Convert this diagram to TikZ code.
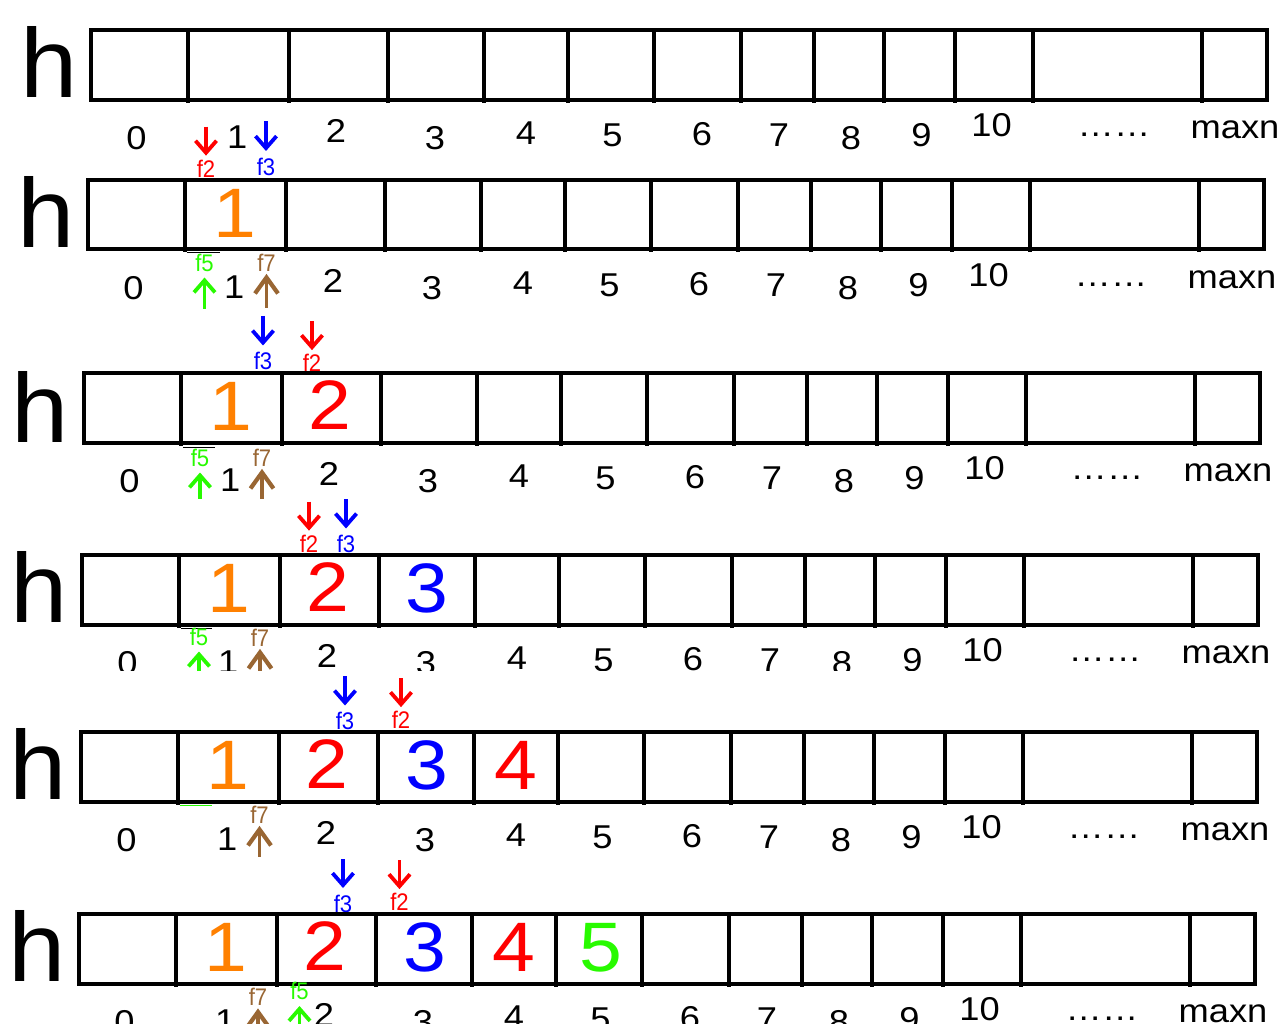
\documentclass[tikz,border=0pt]{standalone}
\usepackage{fontspec}
\setmainfont{Liberation Sans}
\usetikzlibrary{arrows.meta}
\definecolor{myorange}{RGB}{255,128,0}
\definecolor{mygreen}{RGB}{40,250,0}
\definecolor{mybrown}{RGB}{153,102,51}
\definecolor{myred}{RGB}{255,0,0}
\definecolor{myblue}{RGB}{0,0,255}
\tikzset{
  cellline/.style={line width=3.3pt},
  hlab/.style={inner sep=0pt, anchor=south, font=\fontsize{98}{100}\selectfont, xscale=1.05},
  idx/.style={inner sep=0pt, font=\fontsize{33}{36}\selectfont, xscale=1.1},
  big/.style={inner sep=0pt, font=\fontsize{70}{72}\selectfont, xscale=1.1},
  flab/.style={inner sep=0pt, font=\fontsize{24}{26}\selectfont, xscale=0.92},
  ptr/.style={line width=3.3pt, -{Straight Barb[length=12pt,width=21pt,line width=3.8pt]}},
  bptr/.style={line width=3.8pt, -{Straight Barb[length=16pt,width=23pt,line width=4.2pt]}},
  scrap/.style={line width=1pt},
}
\newcommand\arrrow[3]{%
  \draw[cellline] (#1,#2) rectangle ({#1+1176},#3);
  \foreach \o in {97,198,297,393,477,563,650,723,793,864,942,1111}
    \draw[cellline] ({#1+\o},#2) -- ({#1+\o},{#3+3});
}
\newcommand\idxrow[3]{%
  \foreach \n/\t/\dx/\dy in {0/0/45.5/108.5, 1/1/146.3/107, 2/2/245/100.5, 3/3/344/108,
      4/4/435/103, 5/5/521.5/105.5, 6/6/611/104, 7/7/688/105, 8/8/760/108.5,
      9/9/830.5/105.5, 10/10/900.5/95.5, d/……/1023/105, m/maxn/1144/100}
    \node[idx] (#3i\n) at ({#1+\dx},{#2+\dy}) {\t};
}
\begin{document}
\begin{tikzpicture}[x=1pt,y=-1pt]
\useasboundingbox (0,0) rectangle (1280,1024);
\fill[white] (0,0) rectangle (1280,1024);
\clip (0,0) rectangle (1280,1024);

% ---------- row 1 ----------
\node[hlab] (h1) at (49,98) {h};
\arrrow{91}{30}{100}
\idxrow{91}{30}{r1}
\node[flab, myred]  (p1r) at (206,168.5) {f2};
\node[flab, myblue] (p1b) at (266,166.5) {f3};
\draw[ptr, myred]  ([yshift=33pt]p1r.north) -- ([yshift=4pt]p1r.north);
\draw[ptr, myblue] ([yshift=36pt]p1b.north) -- ([yshift=6.5pt]p1b.north);

% ---------- row 2 ----------
\node[hlab] (h2) at (46,248) {h};
\arrrow{88}{180}{249}
\node[big, myorange] (c2a) at (234.5,213) {1};
\idxrow{88}{180}{r2}
\draw[scrap] (187,253) -- (220,253);
\node[flab, mygreen] (q2g) at (204.5,262.5) {f5};
\node[flab, mybrown] (q2b) at (266.5,263) {f7};
\draw[ptr, mygreen] ([yshift=-37pt]q2g.south) -- ([yshift=-6pt]q2g.south);
\draw[bptr, mybrown] ([yshift=-36pt]q2b.south) -- ([yshift=-2pt]q2b.south);
\node[flab, myblue] (p2b) at (263,361) {f3};
\node[flab, myred]  (p2r) at (312,363) {f2};
\draw[ptr, myblue] ([yshift=36pt]p2b.north) -- ([yshift=6.5pt]p2b.north);
\draw[ptr, myred]  ([yshift=33pt]p2r.north) -- ([yshift=4pt]p2r.north);

% ---------- row 3 ----------
\node[hlab] (h3) at (40.5,443) {h};
\arrrow{84}{373}{443}
\node[big, myorange] (c3a) at (230.5,406) {1};
\node[big, myred]    (c3b) at (330,405) {2};
\idxrow{84}{373}{r3}
\draw[scrap] (183,447) -- (215,447);
\node[flab, mygreen] (q3g) at (200,457.5) {f5};
\node[flab, mybrown] (q3b) at (262,458) {f7};
\draw[ptr, mygreen] ([yshift=-32pt]q3g.south) -- ([yshift=-6pt]q3g.south);
\draw[bptr, mybrown] ([yshift=-32pt]q3b.south) -- ([yshift=-2pt]q3b.south);
\node[flab, myred]  (p3r) at (309,543.5) {f2};
\node[flab, myblue] (p3b) at (346,544) {f3};
\draw[ptr, myred]  ([yshift=33pt]p3r.north) -- ([yshift=4pt]p3r.north);
\draw[ptr, myblue] ([yshift=36pt]p3b.north) -- ([yshift=6.5pt]p3b.north);

% ---------- row 4 ----------
\node[hlab] (h4) at (39,623) {h};
\arrrow{82}{555}{625}
\node[big, myorange] (c4a) at (228.5,588) {1};
\node[big, myred]    (c4b) at (328,587) {2};
\node[big, myblue]   (c4c) at (427,588) {3};
\begin{scope}
  \clip (0,0) rectangle (1280,670);
  \idxrow{82}{555}{r4}
  \draw[scrap] (181,628) -- (212,628);
  \node[flab, mygreen] (q4g) at (199,636.5) {f5};
  \node[flab, mybrown] (q4b) at (260,638) {f7};
  \draw[ptr, mygreen] ([yshift=-36pt]q4g.south) -- ([yshift=-6pt]q4g.south);
  \draw[bptr, mybrown] ([yshift=-36pt]q4b.south) -- ([yshift=-2pt]q4b.south);
\end{scope}
\node[flab, myblue] (p4b) at (345,721) {f3};
\node[flab, myred]  (p4r) at (401,720) {f2};
\draw[ptr, myblue] ([yshift=36pt]p4b.north) -- ([yshift=6.5pt]p4b.north);
\draw[ptr, myred]  ([yshift=33pt]p4r.north) -- ([yshift=4pt]p4r.north);

% ---------- row 5 ----------
\node[hlab] (h5) at (38,800) {h};
\arrrow{81}{732}{802}
\node[big, myorange] (c5a) at (227.5,765) {1};
\node[big, myred]    (c5b) at (327,764) {2};
\node[big, myblue]   (c5c) at (426.5,765) {3};
\node[big, myred]    (c5d) at (515.5,765) {4};
\idxrow{81}{732}{r5}
\draw[scrap, mygreen] (180,805) -- (212,805);
\node[flab, mybrown] (q5b) at (259.5,815) {f7};
\draw[bptr, mybrown] ([yshift=-33pt]q5b.south) -- ([yshift=-2pt]q5b.south);
\node[flab, myblue] (p5b) at (343,904) {f3};
\node[flab, myred]  (p5r) at (399.5,902) {f2};
\draw[ptr, myblue] ([yshift=36pt]p5b.north) -- ([yshift=7pt]p5b.north);
\draw[ptr, myred]  ([yshift=33pt]p5r.north) -- ([yshift=4pt]p5r.north);

% ---------- row 6 ----------
\node[hlab] (h6) at (37,982) {h};
\arrrow{79}{914}{984}
\node[big, myorange] (c6a) at (225.5,947) {1};
\node[big, myred]    (c6b) at (325,946) {2};
\node[big, myblue]   (c6c) at (424.5,947) {3};
\node[big, myred]    (c6d) at (513.5,947) {4};
\node[big, mygreen]  (c6e) at (600.5,948) {5};
\idxrow{79}{914}{r6}
\node[flab, mybrown] (q6b) at (258,996.5) {f7};
\node[flab, mygreen] (q6g) at (299.5,991) {f5};
\draw[bptr, mybrown] ([yshift=-36pt]q6b.south) -- ([yshift=-3pt]q6b.south);
\draw[ptr, mygreen] ([yshift=-36pt]q6g.south) -- ([yshift=-6pt]q6g.south);
\end{tikzpicture}
\end{document}
